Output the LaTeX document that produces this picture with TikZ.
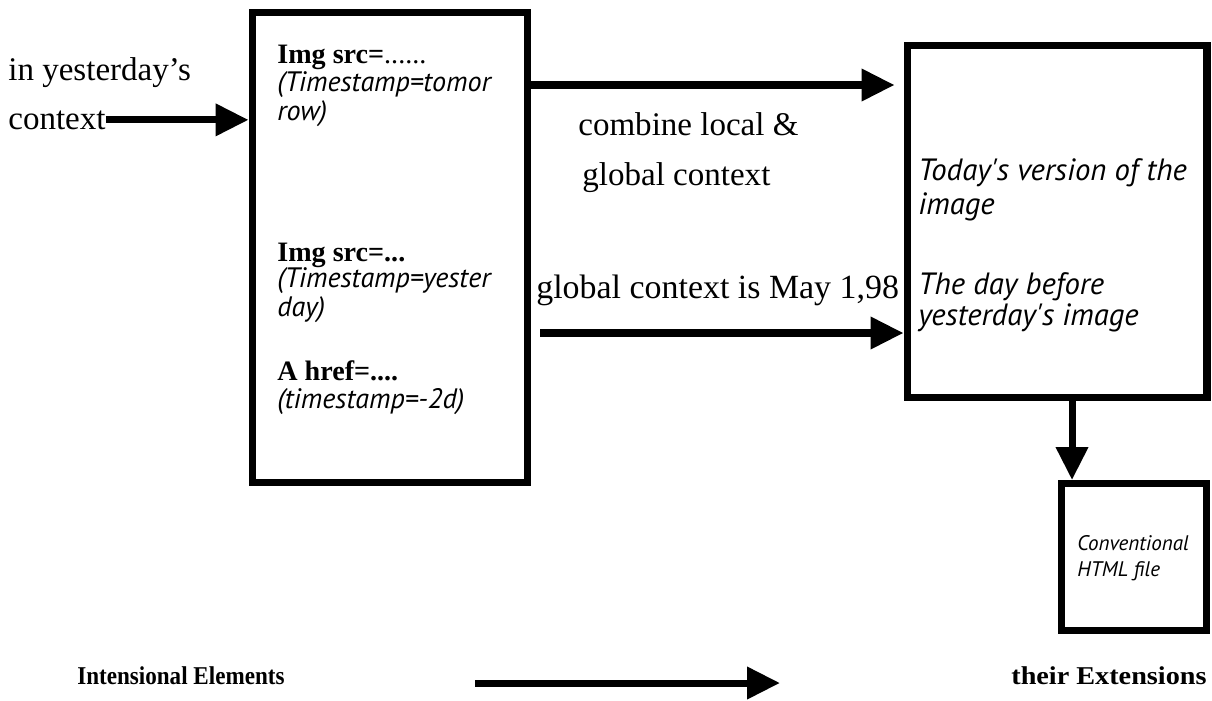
\documentclass[tikz,border=0pt]{standalone}
\usepackage{fontspec}
\setmainfont{Liberation Serif}
\newfontfamily\notefont{PT Sans}
\usetikzlibrary{arrows.meta}
\begin{document}
\begin{tikzpicture}[x=0.02cm,y=-0.02cm,
  frame/.style={draw,line width=4pt,inner sep=0pt,fill=white},
  flow/.style={line width=4pt,-{Triangle[length=0.66cm,width=0.62cm]}},
  lbl/.style={font=\fontsize{18.8}{22}\selectfont,inner sep=0pt,anchor=base west},
  code/.style={font=\fontsize{16}{19}\selectfont\bfseries,inner sep=0pt,anchor=base west},
  note/.style={font=\notefont\itshape\fontsize{16}{19}\selectfont,inner sep=0pt,anchor=base west},
  rnote/.style={note,font=\notefont\itshape\fontsize{17.5}{20}\selectfont},
  cnote/.style={note,font=\notefont\itshape\fontsize{12}{15}\selectfont},
  foot/.style={font=\fontsize{14.6}{17}\selectfont\bfseries,inner sep=0pt,anchor=base west}]
\useasboundingbox (0,0) rectangle (1212,700);

% boxes
\node[frame,minimum width=5.52cm,minimum height=9.42cm] (lbox) at (390,247.5) {};
\node[frame,minimum width=6cm,minimum height=7.06cm] (rbox) at (1057,221.5) {};
\node[frame,minimum width=2.9cm,minimum height=2.94cm] (cbox) at (1134,557) {};

% left input
\node[lbl] (yest) at (8,80) {in yesterday's};
\node[lbl] (ctx) at (8,129) {context};

% contents of the intensional page
\node[code] (i1) at (277,63) {Img src=\textmd{......}};
\node[note] (i2) at (277,91) {(Timestamp=tomor};
\node[note] (i3) at (277,120) {row)};
\node[code] (i4) at (277,261) {Img src=...};
\node[note] (i5) at (277,287) {(Timestamp=yester};
\node[note] (i6) at (277,316) {day)};
\node[code] (i7) at (277,380) {A href=....};
\node[note] (i8) at (277,408) {(timestamp=-2d)};

% middle labels
\node[lbl] (c1) at (578,135) {combine local \&};
\node[lbl] (c2) at (582,185) {global context};
\node[lbl,font=\fontsize{19.3}{22}\selectfont] (g1) at (536,298) {global context is May 1,98};

% extensions
\node[rnote] (e1) at (918,180) {Today's version of the};
\node[rnote] (e2) at (918,214) {image};
\node[rnote] (e3) at (918,294) {The day before};
\node[rnote] (e4) at (918,325) {yesterday's image};
\node[cnote] (h1) at (1077,550) {Conventional};
\node[cnote] (h2) at (1077,576) {HTML file};

% footer
\node[foot] (fl) at (77,684) {\scalebox{0.9}[1]{Intensional Elements}};
\node[foot] (fr) at (1011,684) {\scalebox{1.1}[1]{their Extensions}};

% connectors
\coordinate (ytop) at (0,85);
\coordinate (ylow) at (0,333);
\coordinate (xdown) at (1072,0);
\coordinate (b1) at (475,683);
\coordinate (b2) at (780,683);
\draw[flow] (ctx.east) -- (ctx.east -| lbox.west);
\draw[flow,shorten >=0.18cm] (lbox.east |- ytop) -- (rbox.west |- ytop);
\draw[flow,shorten <=0.18cm] (lbox.east |- ylow) -- (rbox.west |- ylow);
\draw[flow] (rbox.south -| xdown) -- (cbox.north -| xdown);
\draw[flow] (b1) -- (b2);
\end{tikzpicture}
\end{document}
